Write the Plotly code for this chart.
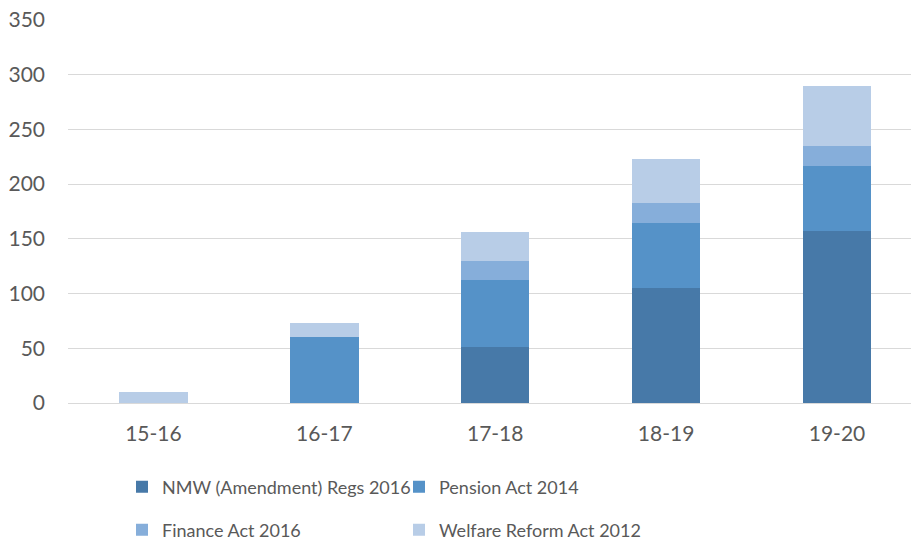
import plotly.graph_objects as go

categories = ["15-16", "16-17", "17-18", "18-19", "19-20"]
series_names = ["NMW (Amendment) Regs 2016", "Pension Act 2014", "Finance Act 2016", "Welfare Reform Act 2012"]
nmw = [0, 0, 51, 105, 157]
pension = [0, 60, 61, 59.5, 60]
finance = [0, 0, 18, 18.5, 18]
welfare = [10, 13, 26, 40, 55]
y_ticks = [0, 50, 100, 150, 200, 250, 300, 350]

colors = ["#4779A8", "#5592C8", "#86AEDA", "#B8CDE7"]
values = [nmw, pension, finance, welfare]
legends = ["legend", "legend", "legend2", "legend2"]

FONT = "Lato"
TXT = "#595959"
W, H = 911, 541

fig = go.Figure()
for name, vals, col, lg in zip(series_names, values, colors, legends):
    fig.add_trace(go.Bar(
        x=categories, y=vals, name=name, marker_color=col,
        marker_line_width=0, width=0.4, legend=lg,
    ))

legend_common = dict(
    orientation="h", xanchor="left", yanchor="middle",
    xref="container", yref="container",
    font=dict(family=FONT, size=18, color=TXT),
    bgcolor="rgba(0,0,0,0)", entrywidth=232, entrywidthmode="pixels",
    itemwidth=30, traceorder="normal",
)

fig.update_layout(
    width=W, height=H,
    margin=dict(l=68, r=0, t=20, b=138, autoexpand=False),
    plot_bgcolor="white", paper_bgcolor="white",
    barmode="stack",
    font=dict(family=FONT, size=21, color=TXT),
    xaxis=dict(
        range=[-0.5, 4.433], showgrid=False, showline=False, zeroline=False,
        tickfont=dict(family=FONT, size=21, color=TXT), ticklabelstandoff=16,
    ),
    yaxis=dict(
        range=[0, 350], tickvals=y_ticks, showgrid=True, gridcolor="#D9D9D9",
        gridwidth=1, zeroline=True, zerolinecolor="#D9D9D9", zerolinewidth=1,
        showline=False, tickfont=dict(family=FONT, size=21, color=TXT),
        ticklabelstandoff=22,
    ),
    legend=dict(x=122 / W, y=1 - 487 / H, **legend_common),
    legend2=dict(x=122 / W, y=1 - 530 / H, **legend_common),
    bargap=0.6,
)

fig.write_html(
    "out.html",
    config={"displayModeBar": False},
    post_script="document.body.style.margin='0';document.body.style.padding='0';",
)
